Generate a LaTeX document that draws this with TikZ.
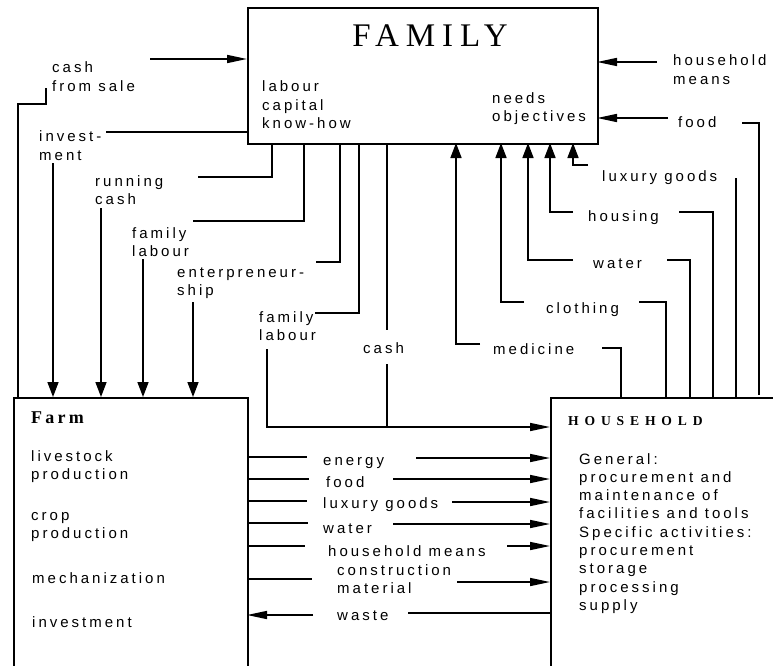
\documentclass[tikz,border=0pt]{standalone}
\usepackage{fontspec}
\setmainfont{Liberation Sans}
\newfontfamily\lsans[LetterSpace=20]{Liberation Sans}
\newfontfamily\famfont[LetterSpace=21]{Liberation Serif}
\newfontfamily\boxtitle[LetterSpace=18]{Liberation Serif}
\newfontfamily\hhtitle[LetterSpace=43]{Liberation Serif}
\usetikzlibrary{arrows.meta}
\newcommand\lab[1]{\begin{tabular}[t]{@{}l@{}}#1\end{tabular}}
\begin{document}
\begin{tikzpicture}[x=1pt,y=-1pt,
  box/.style={draw, line width=1.6pt, inner sep=0pt, anchor=north west},
  lbl/.style={anchor=base west, inner sep=0pt, font=\lsans\fontsize{15}{18.3}\selectfont},
  conn/.style={line width=1.6pt},
  harr/.style={conn, -{Triangle[length=20pt,width=8pt]}},
  varr/.style={conn, -{Triangle[length=15pt,width=11pt]}}]
\useasboundingbox (0,0) rectangle (773,666);
\clip (0,0) rectangle (773,666);
% boxes
\node[box, minimum width=350pt, minimum height=136pt] (fam) at (247,7) {};
\node[box, minimum width=234pt, minimum height=320pt] (farm) at (13,397) {};
\node[box, minimum width=300pt, minimum height=320pt] (hh) at (550,397) {};
% family texts
\node[anchor=base, inner sep=0pt, font=\famfont\fontsize{33}{36}\selectfont] (famtitle) at (430,47) {FAMILY};
\node[lbl] (res) at (262,92) {\lab{labour\\capital\\know-how}};
\node[lbl] (needs) at (492,103) {\lab{needs\\objectives}};
% left labels
\node[lbl] (cfs) at (52,73) {\lab{cash\\from sale}};
\node[lbl] (inv) at (39,142) {\lab{invest-\\ment}};
\node[lbl] (rc) at (95,186) {\lab{running\\cash}};
\node[lbl] (fl1) at (132,238) {\lab{family\\labour}};
\node[lbl] (ent) at (177,277) {\lab{enterpreneur-\\ship}};
\node[lbl] (fl2) at (259,322) {\lab{family\\labour}};
\node[lbl] (cash2) at (363,353) {cash};
% right labels
\node[lbl] (hm1) at (673,66) {\lab{household\\means}};
\node[lbl] (food1) at (678,128) {food};
\node[lbl] (lux1) at (602,181) {luxury goods};
\node[lbl] (hous) at (588,221) {housing};
\node[lbl] (wat1) at (593,268) {water};
\node[lbl] (clo) at (546,313) {clothing};
\node[lbl] (med) at (493,354) {medicine};
% farm texts
\node[anchor=base west, inner sep=0pt, font=\boxtitle\bfseries\fontsize{18}{20}\selectfont] (farmt) at (31,423) {Farm};
\node[lbl] (f1) at (31,461) {\lab{livestock\\production}};
\node[lbl] (f2) at (31,520) {\lab{crop\\production}};
\node[lbl] (f3) at (32,583) {mechanization};
\node[lbl] (f4) at (32,627) {investment};
% middle labels
\node[lbl] (m1) at (323,465) {energy};
\node[lbl] (m2) at (326,487) {food};
\node[lbl] (m3) at (323,508) {luxury goods};
\node[lbl] (m4) at (323,533) {water};
\node[lbl] (m5) at (328,556) {household means};
\node[lbl] (m6) at (337,575) {\lab{construction\\material}};
\node[lbl] (m7) at (337,620) {waste};
% household texts
\node[anchor=base west, inner sep=0pt, font=\hhtitle\bfseries\fontsize{13.6}{15}\selectfont] (hht) at (568,425) {HOUSEHOLD};
\node[lbl] (hb) at (579,464) {\lab{General:\\procurement and\\maintenance of\\facilities and tools\\Specific activities:\\procurement\\storage\\processing\\supply}};
% connectors family <-> farm (left)
\draw[conn] (18,397) -- (18,104) -- (46,104) -- (46,88);
\draw[harr] (150,59) -- (247,59);
\draw[conn] (247,132) -- (106,132);
\draw[varr] (53,163) -- (53,397);
\draw[conn] (272,143) -- (272,177) -- (198,177);
\draw[varr] (101,208) -- (101,397);
\draw[conn] (304,143) -- (304,221) -- (193,221);
\draw[varr] (143,259) -- (143,397);
\draw[conn] (340,143) -- (340,262) -- (316,262);
\draw[varr] (193,302) -- (193,397);
\draw[conn] (359,143) -- (359,313) -- (315,313);
\draw[conn] (387,143) -- (387,330);
\draw[conn] (387,364) -- (387,427);
\draw[harr] (267,349) -- (267,427) -- (550,427);
% household -> family (right)
\draw[harr] (657,62) -- (597,62);
\draw[harr] (668,118) -- (597,118);
\draw[conn] (742,123) -- (759,123) -- (759,395);
\draw[conn] (736,178) -- (736,397);
\draw[varr] (588,165) -- (573,165) -- (573,143);
\draw[conn] (679,212) -- (713,212) -- (713,397);
\draw[varr] (573,212) -- (550,212) -- (550,143);
\draw[conn] (667,260) -- (690,260) -- (690,397);
\draw[varr] (573,260) -- (528,260) -- (528,143);
\draw[conn] (639,302) -- (666,302) -- (666,397);
\draw[varr] (524,302) -- (501,302) -- (501,143);
\draw[conn] (602,348) -- (621,348) -- (621,397);
\draw[varr] (480,344) -- (456,344) -- (456,143);
% farm <-> household
\draw[conn] (247,457) -- (307,457);
\draw[harr] (416,458) -- (550,458);
\draw[conn] (247,479) -- (309,479);
\draw[harr] (393,479) -- (550,479);
\draw[conn] (247,501) -- (307,501);
\draw[harr] (452,502) -- (550,502);
\draw[conn] (247,523) -- (308,523);
\draw[harr] (393,524) -- (550,524);
\draw[conn] (247,546) -- (305,546);
\draw[harr] (507,546) -- (550,546);
\draw[conn] (247,579) -- (312,579);
\draw[harr] (457,582) -- (550,582);
\draw[harr] (313,615) -- (247,615);
\draw[conn] (408,613) -- (550,613);
\end{tikzpicture}
\end{document}
